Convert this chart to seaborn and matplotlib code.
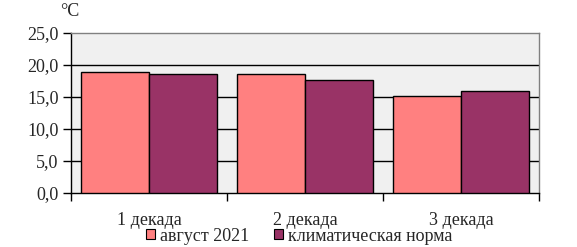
import matplotlib
matplotlib.use("Agg")
import matplotlib.pyplot as plt
import seaborn as sns
import pandas as pd
from matplotlib.patches import Patch

categories = ["1 декада", "2 декада", "3 декада"]
series_names = ["август 2021", "климатическая норма"]
aug_2021 = [18.9, 18.55, 15.1]
norm = [18.55, 17.6, 16.0]
yticks = [0, 5, 10, 15, 20, 25]
ytick_labels = ["0,0", "5,0", "10,0", "15,0", "20,0", "25,0"]
colors = ["#FF8080", "#993366"]

df = pd.DataFrame({
    "cat": categories * 2,
    "series": [series_names[0]] * 3 + [series_names[1]] * 3,
    "val": aug_2021 + norm,
})

sns.set_theme(style="white")
plt.rcParams["font.family"] = ["Liberation Serif", "DejaVu Serif"]
FS = 13

fig = plt.figure(figsize=(5.77, 2.47), dpi=100)
ax = fig.add_axes([71/577, 1-193/247, (539-71)/577, (193-33)/247])
ax.set_facecolor("#F0F0F0")

sns.barplot(data=df, x="cat", y="val", hue="series", palette=colors,
            width=0.872, edgecolor="black", linewidth=1.0, saturation=1,
            ax=ax, legend=False, zorder=3)

ax.set_xlim(-0.5, 2.5)
ax.set_ylim(0, 25)
ax.set_yticks(yticks)
ax.set_yticklabels(ytick_labels, fontsize=FS)
for y in yticks[1:-1]:
    ax.axhline(y, color="black", lw=1.0, zorder=1)
ax.set_xticks(range(3))
ax.set_xticklabels(categories, fontsize=FS)
ax.set_xticks([-0.5, 0.5, 1.5, 2.5], minor=True)
ax.tick_params(axis="x", which="major", length=0, pad=14)
ax.tick_params(axis="x", which="minor", length=6, width=1, color="black", direction="out", bottom=True)
ax.tick_params(axis="y", length=6, width=1, color="black", direction="out", left=True, pad=3)
ax.set_xlabel("")
ax.set_ylabel("")

for s in ["top", "right"]:
    ax.spines[s].set_color("#808080")
    ax.spines[s].set_linewidth(1.0)
for s in ["left", "bottom"]:
    ax.spines[s].set_color("black")
    ax.spines[s].set_linewidth(1.0)

fig.text(60/577, 1-12/247, "°C", fontsize=FS, va="center", ha="left")

handles = [Patch(facecolor=colors[i], edgecolor="black", linewidth=0.8) for i in range(2)]
fig.legend(handles, series_names, loc="center", bbox_to_anchor=(299/577, 1-236/247),
           ncol=2, frameon=False, fontsize=FS, handlelength=0.5, handleheight=0.5,
           handletextpad=0.25, columnspacing=1.4, borderpad=0)

fig.savefig("out.png", dpi=100)
